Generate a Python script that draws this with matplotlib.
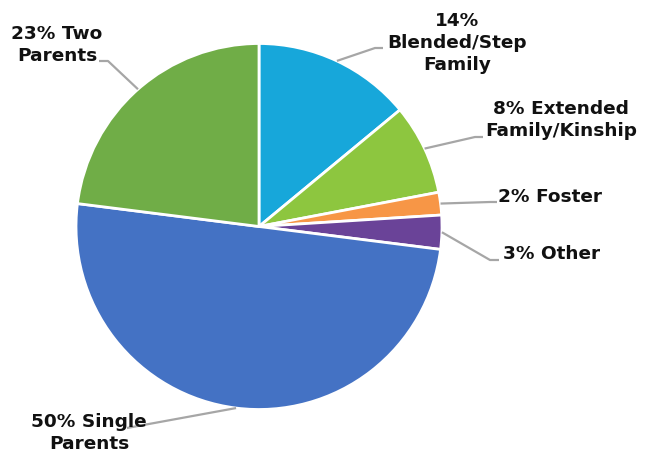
import numpy as np
import matplotlib
matplotlib.use("Agg")
import matplotlib.pyplot as plt

# Data
categories = ["Blended/Step Family", "Extended Family/Kinship", "Foster", "Other",
              "Single Parents", "Two Parents"]
values = [14, 8, 2, 3, 50, 23]
labels = ["14%\nBlended/Step\nFamily", "8% Extended\nFamily/Kinship", "2% Foster",
          "3% Other", "50% Single\nParents", "23% Two\nParents"]
colors = ["#17A7DA", "#8DC63F", "#F79646", "#6A4398", "#4472C4", "#70AD47"]

W, H = 656, 456
fig = plt.figure(figsize=(W / 100, H / 100), dpi=100)
ax = fig.add_axes([0, 0, 1, 1])

cx, cy, R = 259, H - 227.5, 183
ax.pie(values, colors=colors, startangle=90, counterclock=False, center=(cx, cy),
       radius=R, wedgeprops=dict(edgecolor="white", linewidth=2.0), frame=True)
ax.set_xlim(0, W)
ax.set_ylim(0, H)
ax.set_aspect("equal")
ax.axis("off")

# label layout (pixel coords, y from top): text center, leader path after wedge edge
text_pos = [(457, 43), (561, 120), (550, 197), (552, 254), (89, 433), (57, 45)]
leader_pts = [[(375, 49), (383, 49)],
              [(475, 138), (483, 138)],
              [(490, 203), (497, 203)],
              [(490, 261), (499, 261)],
              [(127, 429)],
              [(108, 62), (99, 62)]]

total = float(sum(values))
cum = 0.0
for v, lab, tp, pts in zip(values, labels, text_pos, leader_pts):
    mid = 90 - 360 * (cum + v / 2) / total
    cum += v
    sx = cx + R * np.cos(np.radians(mid))
    sy = cy + R * np.sin(np.radians(mid))
    xs = [sx] + [p[0] for p in pts]
    ys = [sy] + [H - p[1] for p in pts]
    ax.plot(xs, ys, color="#A6A6A6", lw=1.6, solid_capstyle="butt", zorder=1)
    ax.text(tp[0], H - tp[1], lab, ha="center", va="center", fontsize=13.3,
            fontweight="bold", family="DejaVu Sans", color="#111111",
            linespacing=1.32, zorder=3)

fig.savefig("out.png", dpi=100)
